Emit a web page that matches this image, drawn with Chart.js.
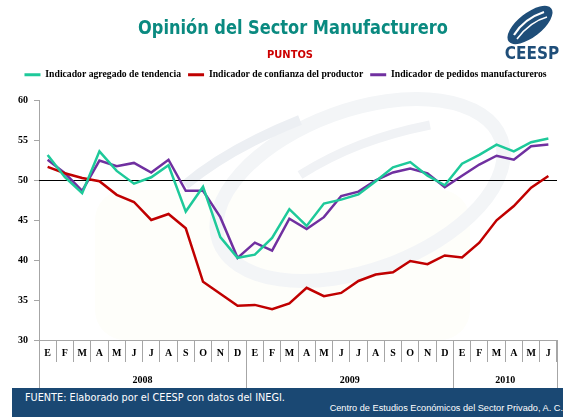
<!DOCTYPE html>
<html>
<head>
<meta charset="utf-8">
<script src="https://cdn.jsdelivr.net/npm/chart.js@4/dist/chart.umd.min.js"></script>
<style>
    html, body { margin: 0; padding: 0; background: #fff; }
    #page { position: relative; width: 563px; height: 417px; overflow: hidden; background: #fff; }
    #mark { position: absolute; left: 0; top: 0; }
    #chart-wrap { position: absolute; left: 0; top: 0; width: 563px; height: 388px; }
    #title { position: absolute; left: 0; top: 15px; width: 586px; text-align: center;
        font: bold 20px "DejaVu Sans Condensed", "DejaVu Sans", sans-serif; color: #0a8a80; line-height: 24px;
        transform: scaleX(0.9); }
    #subtitle { position: absolute; left: 0; top: 48px; width: 580px; text-align: center;
        font: bold 11px "DejaVu Sans Condensed", "DejaVu Sans", sans-serif; color: #cc0000; line-height: 13px; }
    #logo { position: absolute; left: 497px; top: 4px; }
    #footer { position: absolute; left: 12px; top: 388px; width: 551px; height: 29px; background: #1a4873; }
    #source { position: absolute; left: 13px; top: 3px; color: #fff; white-space: nowrap;
        font: 10.8px "DejaVu Sans Condensed", "DejaVu Sans", sans-serif; }
    #org { position: absolute; right: 0; top: 15px; color: #fff; white-space: nowrap;
        font: 9.2px "Liberation Sans Narrow", "Liberation Sans", sans-serif; }
</style>
</head>
<body>
<div id="page">
    <!-- faint logo watermark behind the plot -->
    <svg id="mark" width="563" height="388">
        <rect x="95" y="190" width="375" height="150" rx="30" fill="#fefefa"/>
        <ellipse cx="360" cy="190" rx="150" ry="80" transform="rotate(-20 360 190)"
                 fill="none" stroke="#f3f5f7" stroke-width="14"/>
        <path d="M185 185 C215 160 250 140 300 120" stroke="#eceff3" stroke-width="10" fill="none"/>
        <path d="M300 175 C340 150 380 135 430 125" stroke="#f0f2f5" stroke-width="9" fill="none"/>
    </svg>
    <div id="chart-wrap"><canvas id="opinion-chart"></canvas></div>
    <div id="title">Opinión del Sector Manufacturero</div>
    <div id="subtitle">PUNTOS</div>
    <svg id="logo" width="66" height="58" viewBox="0 0 66 58">
        <ellipse cx="33" cy="21" rx="27" ry="12" transform="rotate(-38 33 21)" fill="#1f4e79"/>
        <path d="M17 31 C25 18 35 12 47 8" stroke="#fff" stroke-width="2.2" fill="none"/>
        <path d="M20 35 C29 23 39 16 50 13" stroke="#fff" stroke-width="1.6" fill="none"/>
        <text x="35" y="55" text-anchor="middle" fill="#1f4e79"
              font-family="DejaVu Sans Condensed, DejaVu Sans, sans-serif" font-weight="bold" font-size="17">CEESP</text>
    </svg>
    <div id="footer">
        <div id="source">FUENTE: Elaborado por el CEESP con datos del INEGI.</div>
        <div id="org">Centro de Estudios Económicos del Sector Privado, A. C.</div>
    </div>
</div>
<script>
/* Opinión del Sector Manufacturero, ene 2008 - jun 2010 */
var months = ["E", "F", "M", "A", "M", "J", "J", "A", "S", "O", "N", "D",
              "E", "F", "M", "A", "M", "J", "J", "A", "S", "O", "N", "D",
              "E", "F", "M", "A", "M", "J"];
var years = ["2008", "2009", "2010"];
var monthsPerYear = [12, 12, 6];

var tendencia = [53.2, 50.4, 48.4, 53.65, 51.2, 49.6, 50.4, 51.9, 46.1, 49.2, 42.9, 40.3,
                 40.7, 42.8, 46.4, 44.3, 47.1, 47.6, 48.25, 49.9, 51.65, 52.3, 50.6, 49.4,
                 52.1, 53.2, 54.5, 53.65, 54.8, 55.25];
var confianza = [51.7, 50.9, 50.3, 49.9, 48.2, 47.3, 45.05, 45.8, 44.0, 37.3, 35.8, 34.3,
                 34.4, 33.85, 34.6, 36.55, 35.5, 35.9, 37.4, 38.2, 38.5, 39.9, 39.5, 40.6,
                 40.35, 42.2, 45.0, 46.8, 49.1, 50.55];
var pedidos = [52.6, 50.9, 48.7, 52.5, 51.8, 52.2, 51.0, 52.6, 48.7, 48.7, 45.4, 40.3,
               42.2, 41.2, 45.2, 43.9, 45.4, 48.05, 48.6, 50.0, 51.0, 51.5, 50.9, 49.15,
               50.6, 52.0, 53.1, 52.6, 54.3, 54.5];

var yTicks = { min: 30, max: 60, step: 5 };
var refLevel = 50;

(function () {
    "use strict";

    var serif = "'Liberation Serif', 'Times New Roman', serif";
    var axisGray = "#a6a6a6";

    /* extra room between legend and plot */
    var legendGap = {
        id: "legendGap",
        beforeInit: function (chart) {
            var fit = chart.legend.fit;
            chart.legend.fit = function () {
                fit.bind(chart.legend)();
                this.height += 11;
            };
        }
    };

    /* horizontal line at 50 */
    var refLine = {
        id: "refLine",
        beforeDatasetsDraw: function (chart) {
            var ctx = chart.ctx;
            var area = chart.chartArea;
            var y = Math.round(chart.scales.y.getPixelForValue(refLevel)) + 0.5;
            ctx.save();
            ctx.strokeStyle = "#000";
            ctx.lineWidth = 1;
            ctx.beginPath();
            ctx.moveTo(area.left, y);
            ctx.lineTo(area.right, y);
            ctx.stroke();
            ctx.restore();
        }
    };

    /* year row under the month labels */
    var yearRow = {
        id: "yearRow",
        afterDraw: function (chart) {
            var ctx = chart.ctx;
            var xs = chart.scales.x;
            var w = xs.width / months.length;
            var start = 0;
            ctx.save();
            ctx.strokeStyle = axisGray;
            ctx.lineWidth = 1;
            ctx.fillStyle = "#000";
            ctx.font = "bold 10px " + serif;
            ctx.textAlign = "center";
            ctx.textBaseline = "middle";
            for (var i = 0; i <= years.length; i++) {
                var bx = Math.round(xs.left + start * w) + 0.5;
                ctx.beginPath();
                ctx.moveTo(bx, xs.top);
                ctx.lineTo(bx, xs.bottom);
                ctx.stroke();
                if (i < years.length) {
                    var cx = xs.left + (start + monthsPerYear[i] / 2) * w;
                    ctx.fillText(years[i], cx, xs.top + 40);
                    start += monthsPerYear[i];
                }
            }
            ctx.restore();
        }
    };

    var baseLabels = Chart.defaults.plugins.legend.labels.generateLabels;

    new Chart(document.getElementById("opinion-chart"), {
        type: "line",
        data: {
            labels: months,
            datasets: [{
                label: "Indicador agregado de tendencia",
                data: tendencia,
                borderColor: "#1ec99a",
                backgroundColor: "#1ec99a"
            }, {
                label: "Indicador de confianza del productor",
                data: confianza,
                borderColor: "#c00000",
                backgroundColor: "#c00000"
            }, {
                label: "Indicador de pedidos manufactureros",
                data: pedidos,
                borderColor: "#7030a0",
                backgroundColor: "#7030a0"
            }]
        },
        options: {
            responsive: true,
            maintainAspectRatio: false,
            animation: false,
            layout: { padding: { top: 63, left: 14, right: 6, bottom: 0 } },
            elements: {
                line: { borderWidth: 2.5, tension: 0 },
                point: { radius: 0 }
            },
            plugins: {
                tooltip: { enabled: false },
                legend: {
                    position: "top",
                    labels: {
                        boxWidth: 16,
                        boxHeight: 3,
                        padding: 7,
                        color: "#000",
                        font: { family: serif, weight: "bold", size: 9.7 },
                        generateLabels: function (chart) {
                            return baseLabels(chart).map(function (it) {
                                it.lineWidth = 0;
                                return it;
                            });
                        }
                    }
                }
            },
            scales: {
                x: {
                    offset: true,
                    grid: { drawOnChartArea: false, offset: true, tickLength: 22, color: axisGray },
                    border: { color: axisGray },
                    ticks: {
                        autoSkip: false,
                        maxRotation: 0,
                        padding: -15,
                        color: "#000",
                        font: { family: serif, weight: "bold", size: 10 }
                    },
                    afterFit: function (s) { s.height = 48; }
                },
                y: {
                    min: yTicks.min,
                    max: yTicks.max,
                    grid: { drawOnChartArea: false, tickLength: 5, color: axisGray },
                    border: { color: axisGray },
                    ticks: {
                        stepSize: yTicks.step,
                        padding: 6,
                        crossAlign: "near",
                        color: "#000",
                        font: { family: serif, weight: "bold", size: 10 }
                    },
                    afterFit: function (s) { s.width = 25; }
                }
            }
        },
        plugins: [legendGap, refLine, yearRow]
    });
})();
</script>
</body>
</html>
